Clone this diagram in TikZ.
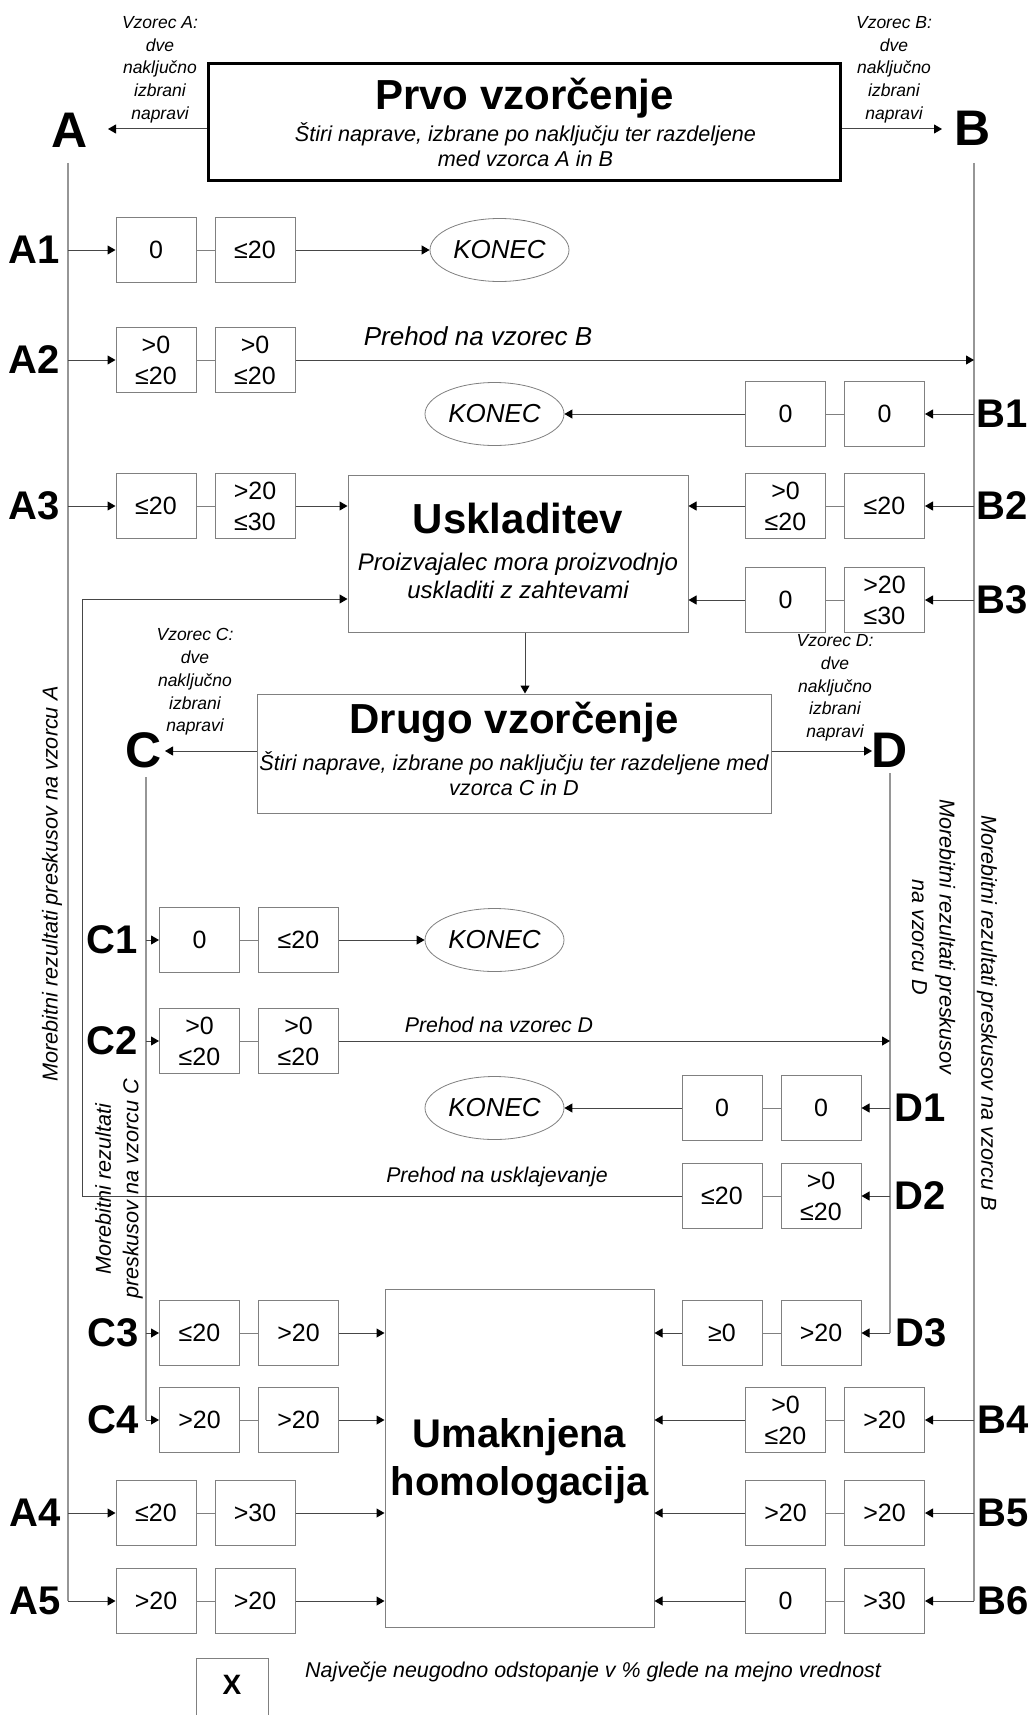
\documentclass[tikz,border=0pt]{standalone}
\usepackage{fontspec}
\setmainfont{Liberation Sans}
\usetikzlibrary{arrows.meta,shapes.geometric}
\definecolor{boxgray}{RGB}{128,128,128}
\definecolor{linegray}{RGB}{70,70,70}
\definecolor{trunkgray}{RGB}{150,150,150}
\tikzset{
  cell/.style={draw=boxgray, line width=1pt, minimum width=80pt, minimum height=65pt, inner sep=0pt, align=center, font=\fontsize{25}{31}\selectfont},
  endnode/.style={ellipse, draw=boxgray, line width=0.8pt, minimum width=139pt, minimum height=63pt, inner sep=0pt, font=\fontsize{26}{30}\selectfont\itshape},
  rowlab/.style={font=\fontsize{40}{44}\selectfont\bfseries, inner sep=0pt},
  biglet/.style={font=\fontsize{50}{56}\selectfont\bfseries, inner sep=0pt},
  mynote/.style={font=\fontsize{17.5}{22.75}\selectfont\itshape, align=center, inner sep=0pt},
  ttl/.style={font=\fontsize{42}{48}\selectfont\bfseries, inner sep=0pt, anchor=base},
  subt/.style={font=\fontsize{21.6}{25}\selectfont\itshape, inner sep=0pt, anchor=base},
  usub/.style={font=\fontsize{24}{25}\selectfont\itshape, inner sep=0pt, anchor=base},
  vtext/.style={font=\fontsize{21.6}{27.5}\selectfont\itshape, inner sep=0pt, align=center},
  bigbox/.style={draw=boxgray, line width=1pt, inner sep=0pt},
  conn/.style={draw=boxgray, line width=1pt},
  arr/.style={draw=linegray, line width=1pt, -{Triangle[length=8pt,width=9pt,color=black]}},
  mytrunk/.style={draw=trunkgray, line width=1.2pt},
}
\begin{document}
\begin{tikzpicture}[x=1pt,y=-1pt]
\fill[white] (0,0) rectangle (1032,1715);
\useasboundingbox (0,0) rectangle (1032,1715);

% ---------- first sampling ----------
\node[draw=black, line width=3pt, minimum width=632pt, minimum height=117pt, inner sep=0pt] (prvo) at (524.5,122) {};
\node[ttl] (prvoT) at (524.5,110) {Prvo vzorčenje};
\node[subt] (prvoS1) at (525.5,142) {Štiri naprave, izbrane po naključju ter razdeljene};
\node[subt] (prvoS2) at (525.5,167) {med vzorca A in B};

\node[biglet] (A) at (70,130) {A};
\node[biglet] (B) at (973,128) {B};
\node[mynote] (nA) at (160,69.6) {Vzorec A:\\dve\\naključno\\izbrani\\napravi};
\node[mynote] (nB) at (894,69.6) {Vzorec B:\\dve\\naključno\\izbrani\\napravi};
\coordinate (Aend) at (108,129);
\coordinate (Bend) at (942,129);
\draw[arr] (prvo.west |- Aend) -- (Aend);
\draw[arr] (prvo.east |- Bend) -- (Bend);

% trunks A and B
\coordinate (at) at (68,163);
\coordinate (ab) at (68,1601);
\coordinate (bt) at (974,163);
\coordinate (bb) at (974,1601);
\draw[mytrunk] (at) -- (ab);
\draw[mytrunk] (bt) -- (bb);

\node[vtext, rotate=90] (vA) at (52,884) {Morebitni rezultati preskusov na vzorcu A};
\node[vtext, rotate=-90] (vB) at (987,1013) {Morebitni rezultati preskusov na vzorcu B};

% ---------- KONEC nodes ----------
\node[endnode] (K1) at (499.5,250) {KONEC};
\node[endnode] (K2) at (494.5,414) {KONEC};
\node[endnode] (K3) at (494.5,940) {KONEC};
\node[endnode] (K4) at (494.5,1108) {KONEC};

% ---------- Uskladitev ----------
\node[bigbox, minimum width=340pt, minimum height=157pt] (usk) at (518,553.5) {};
\node[ttl] (uskT) at (518,533) {Uskladitev};
\node[usub] (uskS1) at (518,570) {Proizvajalec mora proizvodnjo};
\node[usub] (uskS2) at (518,598) {uskladiti z zahtevami};

% ---------- second sampling ----------
\node[bigbox, minimum width=514pt, minimum height=119pt] (drugo) at (514,753.5) {};
\node[ttl] (drugoT) at (514,733) {Drugo vzorčenje};
\node[subt] (drugoS1) at (514,770) {Štiri naprave, izbrane po naključju ter razdeljene med};
\node[subt] (drugoS2) at (514,795) {vzorca C in D};
\draw[arr] ([xshift=7pt]usk.south) -- ([xshift=7pt]usk.south |- drugo.north);

\node[biglet] (C) at (144,750) {C};
\node[biglet] (D) at (890,750) {D};
\node[mynote] (nC) at (195,682) {Vzorec C:\\dve\\naključno\\izbrani\\napravi};
\node[mynote] (nD) at (835,688) {Vzorec D:\\dve\\naključno\\izbrani\\napravi};
\coordinate (Cend) at (165,751);
\coordinate (Dend) at (872,751);
\draw[arr] (drugo.west |- Cend) -- (Cend);
\draw[arr] (drugo.east |- Dend) -- (Dend);

\coordinate (ct) at (146,777);
\coordinate (cb) at (146,1420);
\coordinate (dt) at (890,773);
\coordinate (db) at (890,1333);
\draw[mytrunk] (ct) -- (cb);
\draw[mytrunk] (dt) -- (db);

\node[vtext, rotate=-90] (vD) at (933.5,937) {Morebitni rezultati preskusov\\na vzorcu D};
\node[vtext, rotate=90] (vC) at (119,1189) {Morebitni rezultati\\preskusov na vzorcu C};

% ---------- Umaknjena homologacija ----------
\node[bigbox, minimum width=269pt, minimum height=338pt] (umk) at (519.5,1458) {};
\node[ttl, font=\fontsize{40}{48}\selectfont\bfseries] (umkT1) at (519.5,1447) {Umaknjena};
\node[ttl, font=\fontsize{40}{48}\selectfont\bfseries] (umkT2) at (519.5,1495) {homologacija};

% ---------- row A1 ----------
\node[cell] (A1a) at (156,250) {0};
\node[cell] (A1b) at (255,250) {≤20};
\node[rowlab] (lA1) at (34,250) {A1};
\draw[arr] (A1a -| at) -- (A1a);
\draw[conn] (A1a) -- (A1b);
\draw[arr] (A1b) -- (K1);

% ---------- row A2 ----------
\node[cell] (A2a) at (156,360) {>0\\≤20};
\node[cell] (A2b) at (255,360) {>0\\≤20};
\node[rowlab] (lA2) at (34,360) {A2};
\draw[arr] (A2a -| at) -- (A2a);
\draw[conn] (A2a) -- (A2b);
\draw[arr] (A2b) -- (A2b -| bt);
\node[font=\fontsize{26}{30}\selectfont\itshape, anchor=base, inner sep=0pt] (pB) at (478,345) {Prehod na vzorec B};

% ---------- row B1 ----------
\node[cell] (B1a) at (785.5,414) {0};
\node[cell] (B1b) at (884.5,414) {0};
\node[rowlab] (lB1) at (1002,414) {B1};
\draw[arr] (B1b -| bt) -- (B1b);
\draw[conn] (B1a) -- (B1b);
\draw[arr] (B1a) -- (K2);

% ---------- row A3 ----------
\node[cell] (A3a) at (156,506) {≤20};
\node[cell] (A3b) at (255,506) {>20\\≤30};
\node[rowlab] (lA3) at (34,506) {A3};
\draw[arr] (A3a -| at) -- (A3a);
\draw[conn] (A3a) -- (A3b);
\draw[arr] (A3b) -- (A3b -| usk.west);

% ---------- row B2 ----------
\node[cell] (B2a) at (785.5,506) {>0\\≤20};
\node[cell] (B2b) at (884.5,506) {≤20};
\node[rowlab] (lB2) at (1002,506) {B2};
\draw[arr] (B2b -| bt) -- (B2b);
\draw[conn] (B2a) -- (B2b);
\draw[arr] (B2a) -- (B2a -| usk.east);

% ---------- row B3 ----------
\node[cell] (B3a) at (785.5,600) {0};
\node[cell] (B3b) at (884.5,600) {>20\\≤30};
\node[rowlab] (lB3) at (1002,600) {B3};
\draw[arr] (B3b -| bt) -- (B3b);
\draw[conn] (B3a) -- (B3b);
\draw[arr] (B3a) -- (B3a -| usk.east);

% ---------- row C1 ----------
\node[cell] (C1a) at (199.5,940) {0};
\node[cell] (C1b) at (298.5,940) {≤20};
\node[rowlab] (lC1) at (112,940) {C1};
\draw[arr] (C1a -| ct) -- (C1a);
\draw[conn] (C1a) -- (C1b);
\draw[arr] (C1b) -- (K3);

% ---------- row C2 ----------
\node[cell] (C2a) at (199.5,1041) {>0\\≤20};
\node[cell] (C2b) at (298.5,1041) {>0\\≤20};
\node[rowlab] (lC2) at (112,1041) {C2};
\draw[arr] (C2a -| ct) -- (C2a);
\draw[conn] (C2a) -- (C2b);
\draw[arr] (C2b) -- (C2b -| dt);
\node[font=\fontsize{21.3}{25}\selectfont\itshape, anchor=base, inner sep=0pt] (pD) at (499,1032) {Prehod na vzorec D};

% ---------- row D1 ----------
\node[cell] (D1a) at (722,1108) {0};
\node[cell] (D1b) at (821,1108) {0};
\node[rowlab] (lD1) at (920,1108) {D1};
\draw[arr] (D1b -| dt) -- (D1b);
\draw[conn] (D1a) -- (D1b);
\draw[arr] (D1a) -- (K4);

% ---------- row D2 ----------
\node[cell] (D2a) at (722,1196) {≤20};
\node[cell] (D2b) at (821,1196) {>0\\≤20};
\node[rowlab] (lD2) at (920,1196) {D2};
\draw[arr] (D2b -| dt) -- (D2b);
\draw[conn] (D2a) -- (D2b);
\coordinate (u1) at (82,1196);
\coordinate (u2) at (82,599);
\draw[arr] (D2a) -- (u1) -- (u2) -- (u2 -| usk.west);
\node[font=\fontsize{21.3}{25}\selectfont\itshape, anchor=base, inner sep=0pt] (pU) at (497,1182) {Prehod na usklajevanje};

% ---------- row D3 ----------
\node[cell] (D3a) at (722,1333) {≥0};
\node[cell] (D3b) at (821,1333) {>20};
\node[rowlab] (lD3) at (921,1333) {D3};
\draw[arr] (db) -- (D3b);
\draw[conn] (D3a) -- (D3b);
\draw[arr] (D3a) -- (D3a -| umk.east);

% ---------- row C3 ----------
\node[cell] (C3a) at (199.5,1333) {≤20};
\node[cell] (C3b) at (298.5,1333) {>20};
\node[rowlab] (lC3) at (113,1333) {C3};
\draw[arr] (C3a -| ct) -- (C3a);
\draw[conn] (C3a) -- (C3b);
\draw[arr] (C3b) -- (C3b -| umk.west);

% ---------- row C4 ----------
\node[cell] (C4a) at (199.5,1420) {>20};
\node[cell] (C4b) at (298.5,1420) {>20};
\node[rowlab] (lC4) at (113,1420) {C4};
\draw[arr] (cb) -- (C4a);
\draw[conn] (C4a) -- (C4b);
\draw[arr] (C4b) -- (C4b -| umk.west);

% ---------- row B4 ----------
\node[cell] (B4a) at (785.5,1420) {>0\\≤20};
\node[cell] (B4b) at (884.5,1420) {>20};
\node[rowlab] (lB4) at (1003,1420) {B4};
\draw[arr] (B4b -| bt) -- (B4b);
\draw[conn] (B4a) -- (B4b);
\draw[arr] (B4a) -- (B4a -| umk.east);

% ---------- row A4 ----------
\node[cell] (A4a) at (156,1513) {≤20};
\node[cell] (A4b) at (255,1513) {>30};
\node[rowlab] (lA4) at (35,1513) {A4};
\draw[arr] (A4a -| at) -- (A4a);
\draw[conn] (A4a) -- (A4b);
\draw[arr] (A4b) -- (A4b -| umk.west);

% ---------- row B5 ----------
\node[cell] (B5a) at (785.5,1513) {>20};
\node[cell] (B5b) at (884.5,1513) {>20};
\node[rowlab] (lB5) at (1003,1513) {B5};
\draw[arr] (B5b -| bt) -- (B5b);
\draw[conn] (B5a) -- (B5b);
\draw[arr] (B5a) -- (B5a -| umk.east);

% ---------- row A5 ----------
\node[cell] (A5a) at (156,1601) {>20};
\node[cell] (A5b) at (255,1601) {>20};
\node[rowlab] (lA5) at (35,1601) {A5};
\draw[arr] (ab) -- (A5a);
\draw[conn] (A5a) -- (A5b);
\draw[arr] (A5b) -- (A5b -| umk.west);

% ---------- row B6 ----------
\node[cell] (B6a) at (785.5,1601) {0};
\node[cell] (B6b) at (884.5,1601) {>30};
\node[rowlab] (lB6) at (1003,1601) {B6};
\draw[arr] (bb) -- (B6b);
\draw[conn] (B6a) -- (B6b);
\draw[arr] (B6a) -- (B6a -| umk.east);

% ---------- legend ----------
\node[draw=boxgray, line width=1pt, minimum width=72pt, minimum height=64pt, inner sep=0pt] (legbox) at (232,1690) {};
\node[font=\fontsize{28}{32}\selectfont\bfseries, inner sep=0pt] (legX) at (232,1685) {X};
\node[font=\fontsize{21.4}{25}\selectfont\itshape, anchor=base west, inner sep=0pt] (legT) at (305,1677) {Največje neugodno odstopanje v \% glede na mejno vrednost};
\end{tikzpicture}
\end{document}
